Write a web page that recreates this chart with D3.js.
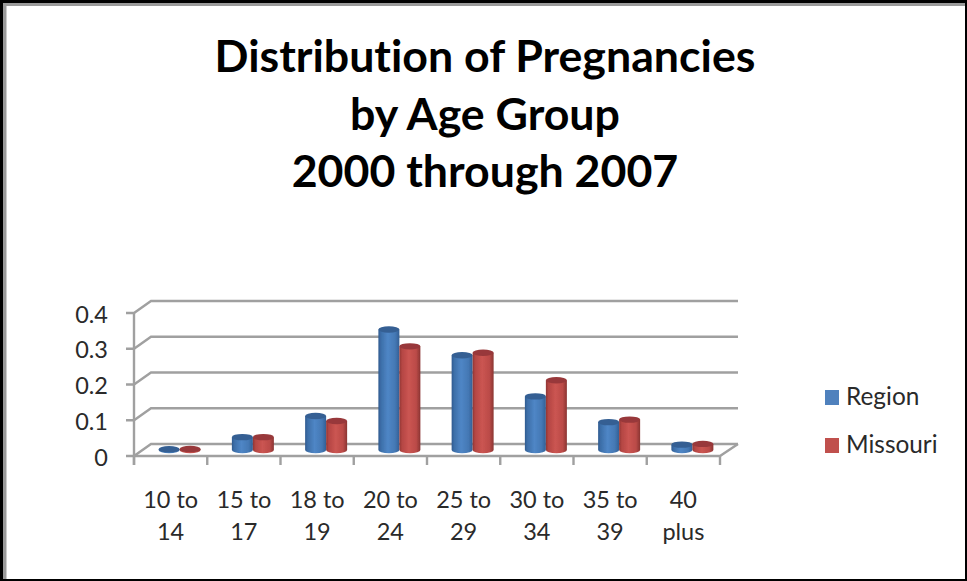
<!DOCTYPE html>
<html><head><meta charset="utf-8">
<script src="https://cdnjs.cloudflare.com/ajax/libs/d3/7.8.5/d3.min.js"></script>
<style>html,body{margin:0;padding:0;background:#fff}svg{display:block}text{font-variant-ligatures:none}</style>
</head><body><svg id="c" width="967" height="581"></svg>
<script>
const categories = [["10 to","14"],["15 to","17"],["18 to","19"],["20 to","24"],["25 to","29"],["30 to","34"],["35 to","39"],["40","plus"]];
const region = [0.002,0.036,0.095,0.337,0.265,0.15,0.078,0.015];
const missouri = [0.003,0.036,0.081,0.29,0.272,0.195,0.085,0.017];
const seriesNames = ["Region","Missouri"];
const ticks = [0,0.1,0.2,0.3,0.4];
const titleLines = ["Distribution of Pregnancies","by Age Group","2000 through 2007"];

const svg = d3.select("#c");
const font = "Lato, Carlito, sans-serif";
const defs = svg.append("defs");
function grad(id, stops){
  const g = defs.append("linearGradient").attr("id",id);
  stops.forEach(s=>g.append("stop").attr("offset",s[0]).attr("stop-color",s[1]));
}
grad("gBlue",[[0,"#2f5a8f"],[0.12,"#3c6ea8"],[0.45,"#4f86c6"],[0.8,"#4478b4"],[1,"#335f95"]]);
grad("gRed",[[0,"#8f3533"],[0.12,"#b44643"],[0.45,"#cb5552"],[0.8,"#bb4b48"],[1,"#8a3432"]]);
defs.append("filter").attr("id","soft").append("feGaussianBlur").attr("stdDeviation",0.5);

// picture frame: black edge with a grey inner shadow along top and left
const frame = svg.append("g");
frame.append("rect").attr("width",967).attr("height",581).attr("fill","#000");
frame.append("rect").attr("x",3).attr("y",3).attr("width",962).attr("height",576).attr("fill","#9a9a9a");
frame.append("rect").attr("x",6.5).attr("y",6).attr("width",958.5).attr("height",573).attr("fill","#fff");

const title = svg.append("g").attr("font-family",font).attr("font-weight",700).attr("font-size",44.7)
  .attr("text-anchor","middle").attr("fill","#000");
titleLines.forEach((t,i)=>title.append("text").attr("x",485).attr("y",72+i*57.5).text(t));

const x = d3.scaleBand().domain(d3.range(categories.length)).range([134,720]).padding(0);
const y = d3.scaleLinear().domain([0,0.4]).range([456,313]);
const depthX = 17, depthY = -12;
const grey = "#a0a0a0";
const chart = svg.append("g").attr("filter","url(#soft)");
const axisG = chart.append("g").attr("stroke",grey).attr("stroke-width",2.4).attr("fill","none");
ticks.forEach(t=>{
  axisG.append("path").attr("d",`M${x.range()[0]-8},${y(t)}H134L${134+depthX},${y(t)+depthY}H${720+depthX+1}`);
});
axisG.append("path").attr("d",`M134,${y(0.4)}V${y(0)+9}`);
axisG.append("path").attr("d",`M134,${y(0)}H720L${720+depthX+1},${y(0)+depthY}`);
d3.range(categories.length+1).forEach(i=>{
  const px = i<categories.length ? x(i) : 720;
  axisG.append("line").attr("x1",px).attr("x2",px).attr("y1",y(0)).attr("y2",y(0)+9);
});

const labels = svg.append("g").attr("font-family",font).attr("font-size",23.5).attr("fill","#2a2a2a");
ticks.forEach(t=>labels.append("text").attr("x",108).attr("y",y(t)+9.5)
  .attr("text-anchor","end").text(t===0?"0":String(t)));
categories.forEach((c,i)=>{
  c.forEach((s,j)=>labels.append("text").attr("x",x(i)+x.bandwidth()/2).attr("y",508+j*32)
    .attr("text-anchor","middle").text(s));
});

const barW = 21, ry = 3.2;
const base = y(0)-6;
const h = d3.scaleLinear().domain([0,0.4]).range([0,143]);
const barsG = chart.append("g");
function cyl(cx, v, fill, top){
  const t = base - h(v), rx = barW/2;
  barsG.append("path")
    .attr("d",`M${cx-rx},${t}V${base}A${rx},${ry} 0 0 0 ${cx+rx},${base}V${t}Z`)
    .attr("fill",`url(#${fill})`);
  barsG.append("ellipse").attr("cx",cx).attr("cy",t).attr("rx",rx).attr("ry",ry).attr("fill",top);
}
categories.forEach((c,i)=>{
  const cx = x(i)+x.bandwidth()/2+9;
  cyl(cx-barW/2, region[i], "gBlue", "#345f93");
  cyl(cx+barW/2, missouri[i], "gRed", "#98393a");
});

const legendColors = ["#4f81bd","#c0504d"];
legendColors.forEach((col,i)=>{
  svg.append("rect").attr("x",825).attr("y",390+i*48).attr("width",14).attr("height",15).attr("fill",col);
  svg.append("text").attr("x",846).attr("y",405+i*48).attr("font-family",font).attr("font-size",24.4)
    .attr("fill","#2a2a2a").text(seriesNames[i]);
});
</script></body></html>
